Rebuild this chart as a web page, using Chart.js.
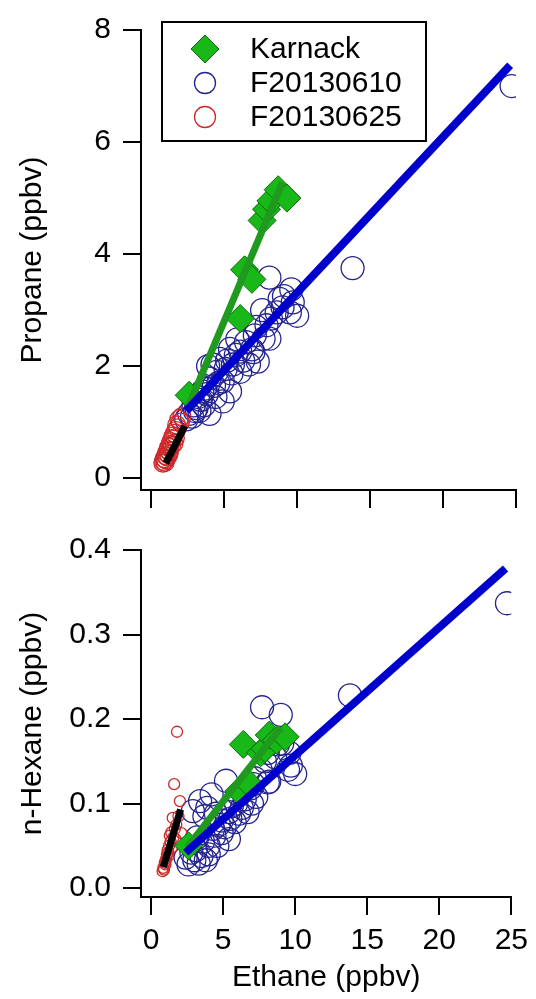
<!DOCTYPE html>
<html>
<head>
<meta charset="utf-8">
<script src="https://cdn.jsdelivr.net/npm/chart.js@4"></script>
<style>
  body { margin: 0; background: #fff; }
  canvas { display: block; }
</style>
</head>
<body>
<canvas id="propaneChart" width="536" height="520"></canvas>
<canvas id="hexaneChart" width="536" height="479"></canvas>
<script>
// Karnack ground samples
const karnackEthane  = [2.6, 6.1, 6.4, 6.9, 7.6, 7.9, 8.2, 8.7, 9.3];
const karnackPropane = [1.48, 2.85, 3.72, 3.55, 4.6, 4.8, 4.95, 5.15, 5.0];
const karnackHexane  = [0.05, 0.115, 0.17, 0.122, 0.16, 0.165, 0.181, 0.175, 0.179];

// flight F20130610
const f0610Ethane = [2.4, 2.6, 2.8, 2.9, 3.0, 3.1, 3.2, 3.3, 3.4, 3.5, 3.6, 3.7, 3.8, 3.9, 4.0,
  4.0, 4.2, 4.3, 4.4, 4.5, 4.6, 4.7, 4.9, 4.9, 5.1, 5.2, 5.4, 5.4, 5.5, 5.6, 5.8, 5.9, 6.1,
  6.1, 6.3, 6.5, 6.7, 6.9, 7.0, 7.1, 7.2, 7.3, 7.6, 7.7, 7.9, 8.1, 8.1, 8.2, 8.6, 8.8, 9.0,
  9.1, 9.5, 9.6, 9.7, 10.0, 13.8, 24.7];
const f0610Propane = [1.05, 1.15, 1.10, 1.30, 1.20, 1.25, 1.45, 1.20, 1.40, 1.55, 1.30, 1.60,
  1.50, 2.00, 1.78, 1.15, 2.03, 1.65, 1.45, 1.90, 1.70, 2.13, 1.73, 1.37, 1.95, 2.10, 2.31,
  1.55, 1.87, 2.03, 2.20, 2.48, 1.90, 2.26, 2.10, 2.43, 2.03, 2.30, 2.25, 2.55, 2.70, 2.08,
  3.00, 2.49, 2.73, 3.58, 2.49, 2.85, 2.96, 3.20, 3.05, 3.25, 2.96, 3.37, 3.14, 2.90, 3.75, 7.0];
const f0610Hexane = [0.036, 0.028, 0.042, 0.091, 0.033, 0.045, 0.060, 0.029, 0.103, 0.038,
  0.055, 0.085, 0.033, 0.095, 0.050, 0.040, 0.111, 0.070, 0.062, 0.088, 0.050, 0.075, 0.065,
  0.080, 0.072, 0.127, 0.090, 0.058, 0.082, 0.097, 0.078, 0.100, 0.088, 0.110, 0.095, 0.105,
  0.090, 0.118, 0.100, 0.123, 0.130, 0.108, 0.140, 0.214, 0.150, 0.160, 0.125, 0.126, 0.155,
  0.170, 0.205, 0.171, 0.140, 0.160, 0.145, 0.135, 0.228, 0.337];

// flight F20130625
const f0625Ethane = [0.8, 0.85, 0.9, 0.95, 1.0, 1.05, 1.1, 1.15, 1.2, 1.25, 1.3, 1.35, 1.4,
  1.45, 1.5, 1.55, 1.6, 1.65, 1.7, 1.75, 1.8, 1.9, 2.0, 2.1, 1.0, 1.2];
const f0625Propane = [0.27, 0.30, 0.35, 0.28, 0.40, 0.45, 0.38, 0.50, 0.55, 0.48, 0.60, 0.65,
  0.58, 0.70, 0.75, 0.62, 0.80, 0.72, 0.85, 0.95, 0.90, 1.05, 1.00, 1.10, 0.33, 0.42];
const f0625Hexane = [0.020, 0.024, 0.022, 0.030, 0.028, 0.035, 0.040, 0.045, 0.038, 0.050,
  0.062, 0.055, 0.066, 0.048, 0.083, 0.060, 0.123, 0.070, 0.058, 0.075, 0.185, 0.085, 0.103,
  0.065, 0.032, 0.042];

// fit lines (end points)
const karnackFitEthane = [2.5, 9.0];
const karnackFitPropane = [1.25, 5.28];
const karnackFitHexane = [0.048, 0.19];
const f0610FitEthane = [2.4, 24.6];
const f0610FitPropane = [1.2, 7.37];
const f0610FitHexane = [0.042, 0.378];
const f0625FitEthane = [1.0, 2.3];
const f0625FitPropane = [0.27, 0.93];
const f0625FitHexaneEthane = [0.85, 2.05];
const f0625FitHexane = [0.025, 0.093];

const xTicks = [0, 5, 10, 15, 20, 25];
const propaneTicks = [0, 2, 4, 6, 8];
const hexaneTicks = [0, 0.1, 0.2, 0.3, 0.4];

const FONT = 'Liberation Sans, Arial, sans-serif';
const BLUE_MK = '#24248f';
const RED_MK = '#cc2a2a';
const DIAMOND_FILL = '#17b817';
const DIAMOND_EDGE = '#0d6a0d';

function pts(xs, ys) {
  return xs.map((x, i) => ({ x: x, y: ys[i] }));
}

function fitLine(xs, ys, color, width) {
  return {
    data: pts(xs, ys),
    showLine: true,
    borderColor: color,
    borderWidth: width,
    borderCapStyle: 'butt',
    pointRadius: 0
  };
}

// datasets listed top-most first (Chart.js draws index 0 last)
function buildDatasets(k, b, r, kFit, bFit, rFit, redRadius) {
  return [
    fitLine(rFit[0], rFit[1], '#000000', 7),
    fitLine(bFit[0], bFit[1], '#0000cc', 8),
    fitLine(kFit[0], kFit[1], '#1f9a1f', 7),
    {
      label: 'Karnack', data: k, pointStyle: 'rectRot', pointRadius: 14,
      backgroundColor: DIAMOND_FILL, borderColor: DIAMOND_EDGE, borderWidth: 1
    },
    {
      label: 'F20130625', data: r, pointStyle: 'circle', pointRadius: redRadius,
      backgroundColor: 'transparent', borderColor: RED_MK, borderWidth: 1.3
    },
    {
      label: 'F20130610', data: b, pointStyle: 'circle', pointRadius: 11.5,
      backgroundColor: 'transparent', borderColor: BLUE_MK, borderWidth: 1.3
    }
  ];
}

function xScale(height, showLabels) {
  return {
    type: 'linear', min: -0.7, max: 25,
    afterBuildTicks: s => { s.ticks = xTicks.map(v => ({ value: v })); },
    afterFit: s => { s.height = height; },
    grid: { drawOnChartArea: false, color: '#000', lineWidth: 2, tickLength: 18 },
    border: { color: '#000', width: 2 },
    ticks: {
      display: showLabels, color: '#000', padding: 8, maxRotation: 0,
      font: { family: FONT, size: 30 }
    },
    title: {
      display: showLabels, text: 'Ethane (ppbv)', color: '#000',
      font: { family: FONT, size: 30 }, padding: { top: 0, bottom: 3 }
    }
  };
}

function yScale(min, max, ticks, title, digits) {
  return {
    type: 'linear', min: min, max: max,
    afterBuildTicks: s => { s.ticks = ticks.map(v => ({ value: v })); },
    afterFit: s => { s.width = 141; },
    grid: { drawOnChartArea: false, color: '#000', lineWidth: 2, tickLength: 18 },
    border: { color: '#000', width: 2 },
    ticks: {
      color: '#000', padding: 12,
      font: { family: FONT, size: 30 },
      callback: v => v.toFixed(digits)
    },
    title: {
      display: true, text: title, color: '#000',
      font: { family: FONT, size: 30 }, padding: { top: 15, bottom: 0 }
    }
  };
}

// boxed legend inside the propane panel
const boxLegend = {
  id: 'boxLegend',
  afterDraw(chart) {
    const ctx = chart.ctx;
    const entries = [
      { text: 'Karnack', style: 'diamond' },
      { text: 'F20130610', style: 'circle', color: BLUE_MK },
      { text: 'F20130625', style: 'circle', color: RED_MK }
    ];
    ctx.save();
    ctx.fillStyle = '#fff';
    ctx.fillRect(162, 22, 264, 119);
    ctx.strokeStyle = '#000';
    ctx.lineWidth = 2;
    ctx.strokeRect(162, 22, 264, 119);
    ctx.font = '30px ' + FONT;
    ctx.textBaseline = 'middle';
    entries.forEach((e, i) => {
      const y = 49 + i * 34;
      if (e.style === 'diamond') {
        ctx.beginPath();
        ctx.moveTo(205, y - 14);
        ctx.lineTo(219, y);
        ctx.lineTo(205, y + 14);
        ctx.lineTo(191, y);
        ctx.closePath();
        ctx.fillStyle = DIAMOND_FILL;
        ctx.fill();
        ctx.strokeStyle = DIAMOND_EDGE;
        ctx.lineWidth = 1;
        ctx.stroke();
      } else {
        ctx.beginPath();
        ctx.arc(205, y, 10.5, 0, Math.PI * 2);
        ctx.strokeStyle = e.color;
        ctx.lineWidth = 1.3;
        ctx.stroke();
      }
      ctx.fillStyle = '#000';
      ctx.fillText(e.text, 250, y + 1);
    });
    ctx.restore();
  }
};

const commonPlugins = {
  legend: { display: false },
  tooltip: { enabled: false },
  title: { display: false }
};

new Chart(document.getElementById('propaneChart'), {
  type: 'scatter',
  data: {
    datasets: buildDatasets(
      pts(karnackEthane, karnackPropane),
      pts(f0610Ethane, f0610Propane),
      pts(f0625Ethane, f0625Propane),
      [karnackFitEthane, karnackFitPropane],
      [f0610FitEthane, f0610FitPropane],
      [f0625FitEthane, f0625FitPropane],
      9
    )
  },
  options: {
    responsive: false,
    animation: false,
    layout: { padding: { top: 24, right: 20, left: 0, bottom: 0 } },
    plugins: commonPlugins,
    scales: {
      x: xScale(30, false),
      y: yScale(-0.21, 8, propaneTicks, 'Propane (ppbv)', 0)
    }
  },
  plugins: [boxLegend]
});

new Chart(document.getElementById('hexaneChart'), {
  type: 'scatter',
  data: {
    datasets: buildDatasets(
      pts(karnackEthane, karnackHexane),
      pts(f0610Ethane, f0610Hexane),
      pts(f0625Ethane, f0625Hexane),
      [karnackFitEthane, karnackFitHexane],
      [f0610FitEthane, f0610FitHexane],
      [f0625FitHexaneEthane, f0625FitHexane],
      5.5
    )
  },
  options: {
    responsive: false,
    animation: false,
    layout: { padding: { top: 26, right: 20, left: 0, bottom: 0 } },
    plugins: commonPlugins,
    scales: {
      x: xScale(102, true),
      y: yScale(-0.0105, 0.4, hexaneTicks, 'n-Hexane (ppbv)', 1)
    }
  }
});
</script>
</body>
</html>
